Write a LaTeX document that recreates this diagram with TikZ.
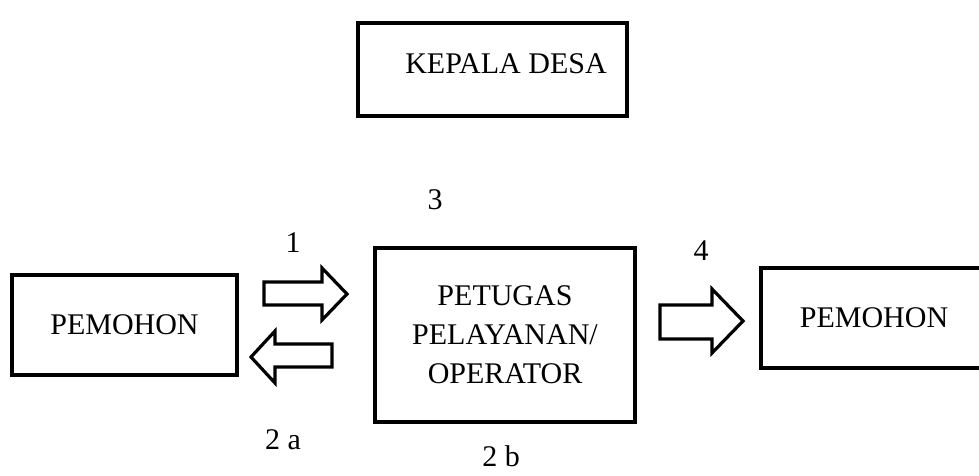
\documentclass[tikz,border=0pt]{standalone}
\usepackage{fontspec}
\setmainfont{Liberation Serif}
\begin{document}
\begin{tikzpicture}[x=1pt,y=-1pt,
  box/.style={draw, line width=3.5pt, inner sep=0pt, align=center,
              font=\fontsize{30}{39}\selectfont},
  lbl/.style={inner sep=0pt, font=\fontsize{30}{36}\selectfont},
  blockarrow/.style={draw, line width=3.2pt, line join=miter, fill=white}]
\clip (0,0) rectangle (979,475);
\fill[white] (0,0) rectangle (979,475);
% boxes
\node[box, minimum width=269, minimum height=93] (kepala) at (492.5,69.5) {};
\node[lbl] (kepalatext) at (506,64) {KEPALA DESA};
\node[box, minimum width=225, minimum height=100] (pem1) at (124.5,325) {PEMOHON};
\node[box, minimum width=260, minimum height=174] (petugas) at (505,335)
  {PETUGAS\\PELAYANAN/\\OPERATOR};
\node[box, minimum width=226, minimum height=100] (pem2) at (874,318) {PEMOHON};
% block arrows
\draw[blockarrow] (264,282) -- (322,282) -- (322,268) -- (347,294) -- (322,320)
  -- (322,305) -- (264,305) -- cycle;
\draw[blockarrow] (332,344) -- (275,344) -- (275,331) -- (251,357) -- (275,383)
  -- (275,367) -- (332,367) -- cycle;
\draw[blockarrow] (660,305) -- (712,305) -- (712,289) -- (743,321) -- (712,353)
  -- (712,339) -- (660,339) -- cycle;
% labels
\node[lbl] (l1) at (293,243) {1};
\node[lbl] (l3) at (435,200) {3};
\node[lbl] (l4) at (701,251) {4};
\node[lbl] (l2a) at (283,440) {2 a};
\node[lbl] (l2b) at (501,456) {2 b};
\end{tikzpicture}
\end{document}
